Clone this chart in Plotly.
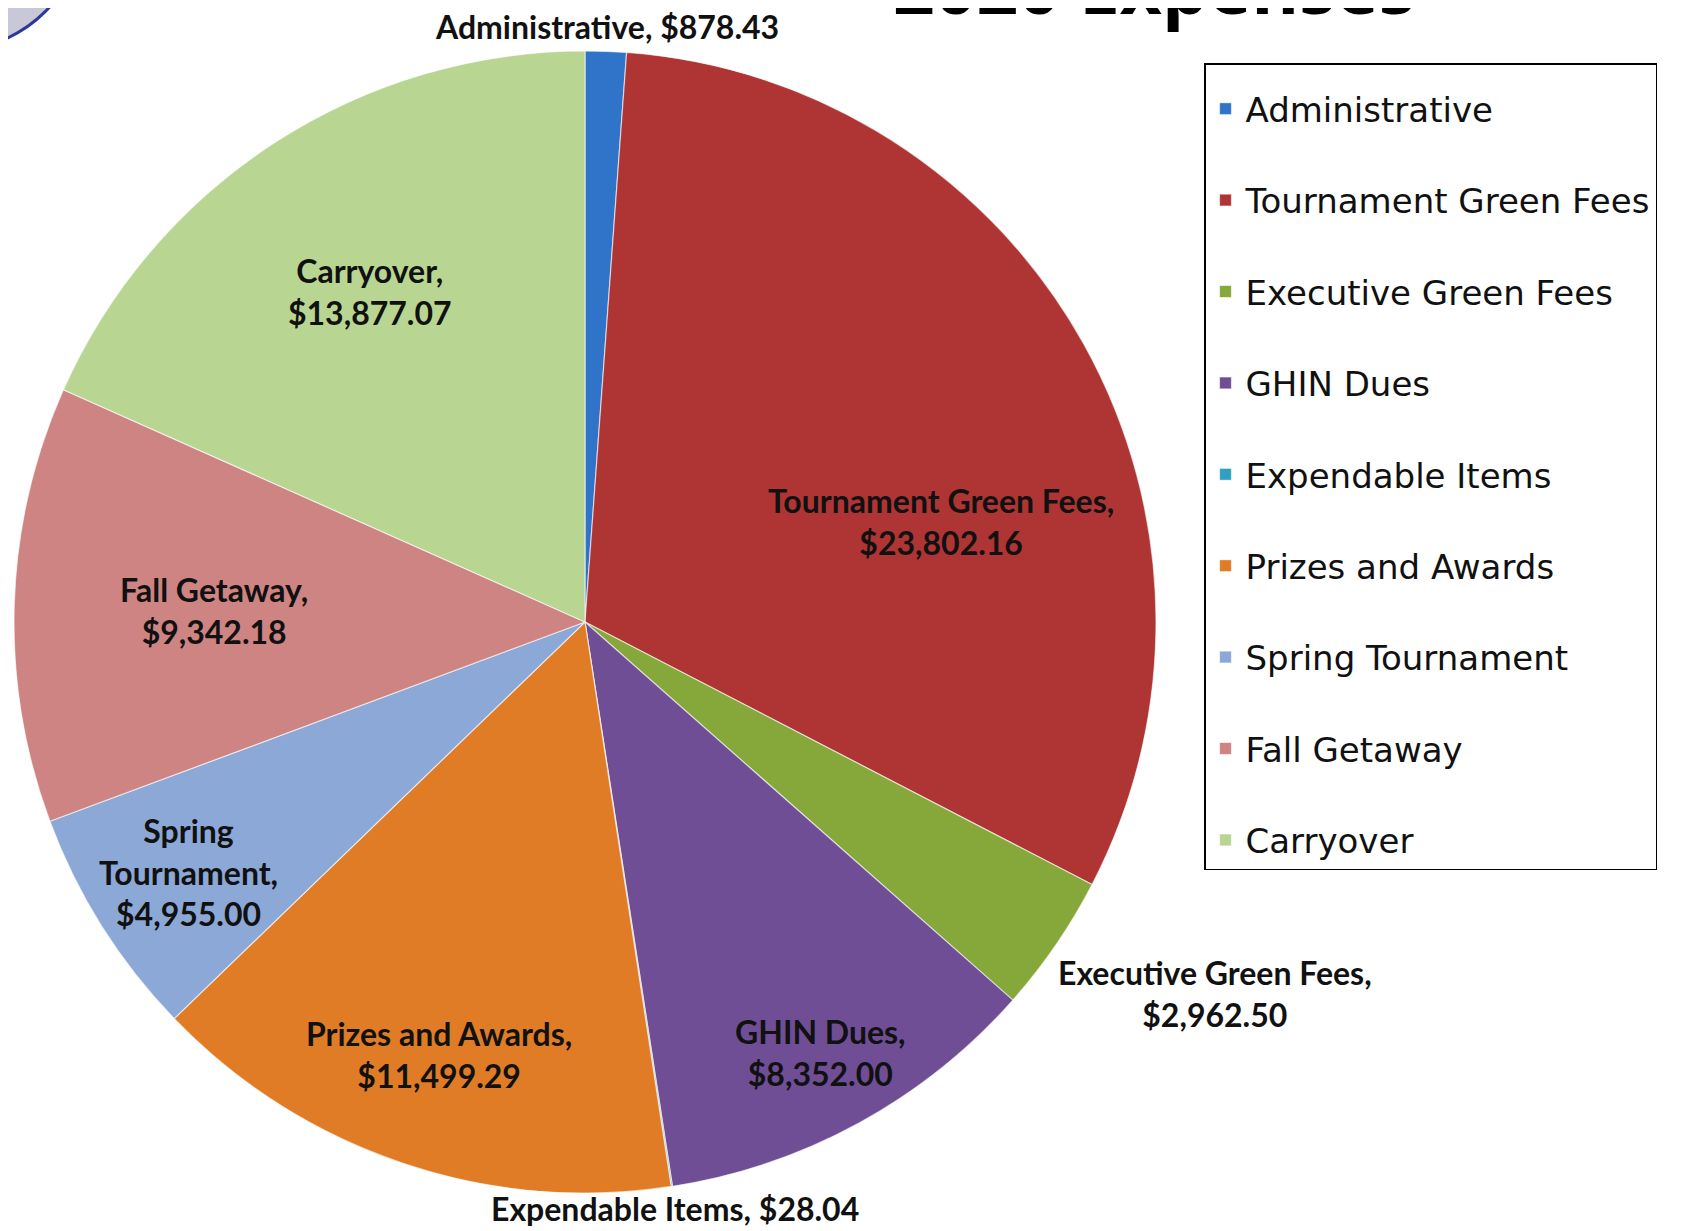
import math
import plotly.graph_objects as go

# ---- data ----
categories = ["Administrative", "Tournament Green Fees", "Executive Green Fees", "GHIN Dues",
              "Expendable Items", "Prizes and Awards", "Spring Tournament", "Fall Getaway", "Carryover"]
amounts = [878.43, 23802.16, 2962.50, 8352.00, 28.04, 11499.29, 4955.00, 9342.18, 13877.07]
title_text = "2020 Expenses"

# ---- styling ----
colors = ["#2F74C8", "#AE3533", "#86A83A", "#6F4E95", "#31A0C0", "#E07C25", "#8BA8D6", "#CE8482", "#B8D592"]
label_names = ["Administrative", "Tournament Green Fees", "Executive Green Fees", "GHIN Dues",
               "Expendable Items", "Prizes and Awards", "Spring<br>Tournament", "Fall Getaway", "Carryover"]
label_sep = [", ", ",<br>", ",<br>", ",<br>", ", ", ",<br>", ",<br>", ",<br>", ",<br>"]
label_r = [1.043, 0.647, 1.28, 0.86, 1.04, 0.80, 0.82, 0.65, 0.69]
label_dang = [0, 13.5, -3.9, 0, 0, 0, 0, 0, 0]

W, H = 1699, 1231
cx_px, cy_px, R_px = 577, 614, 571

# legend entries: extra blank line gives the roomy spacing of the original legend
legend_labels = [c + ("<br> " if i < len(categories) - 1 else "") for i, c in enumerate(categories)]

fig = go.Figure()
fig.add_trace(go.Pie(
    labels=legend_labels,
    values=amounts,
    sort=False,
    direction="clockwise",
    rotation=0,
    textinfo="none",
    hoverinfo="label+value",
    marker=dict(colors=colors, line=dict(color="rgba(255,255,255,0.6)", width=1.2)),
    domain=dict(x=[(cx_px - R_px) / W, (cx_px + R_px) / W],
                y=[1 - (cy_px + R_px) / H, 1 - (cy_px - R_px) / H]),
    showlegend=True,
))

total = sum(amounts)
annotations = []
cum = 0.0
for i, v in enumerate(amounts):
    mid = (cum + v / 2) / total * 360 + label_dang[i]
    cum += v
    a = math.radians(mid)
    px = cx_px + label_r[i] * R_px * math.sin(a)
    py = cy_px - label_r[i] * R_px * math.cos(a)
    annotations.append(dict(
        x=px / W, y=1 - py / H, xref="paper", yref="paper",
        text="<b>" + label_names[i] + label_sep[i] + "${:,.2f}".format(v) + "</b>",
        showarrow=False, xanchor="center", yanchor="middle", align="center",
        font=dict(family="Lato", size=32, color="#111111"),
    ))

annotations.append(dict(
    x=1146 / W, y=1, xref="paper", yref="paper", yanchor="bottom", xanchor="center",
    yshift=-29, text="<b>" + title_text + "</b>", showarrow=False,
    font=dict(family="Open Sans", size=73, color="#000000"),
))

fig.update_layout(
    width=W, height=H,
    margin=dict(l=0, r=0, t=0, b=0),
    paper_bgcolor="white", plot_bgcolor="white",
    annotations=annotations,
    legend=dict(
        x=1196 / W, y=1 - 55 / H, xanchor="left", yanchor="top",
        bordercolor="#000000", borderwidth=1.5,
        font=dict(family="DejaVu Sans", size=34, color="#111111"),
        title=dict(text=" ", font=dict(size=12)),
        valign="top", traceorder="normal",
    ),
    shapes=[dict(type="circle", xref="paper", yref="paper",
                 x0=-185 / W, x1=75 / W, y0=1 - 42 / H, y1=1 + 218 / H,
                 fillcolor="#C8C8D8", line=dict(color="#2B3A9A", width=3))],
)

fig.write_html("out.html")
